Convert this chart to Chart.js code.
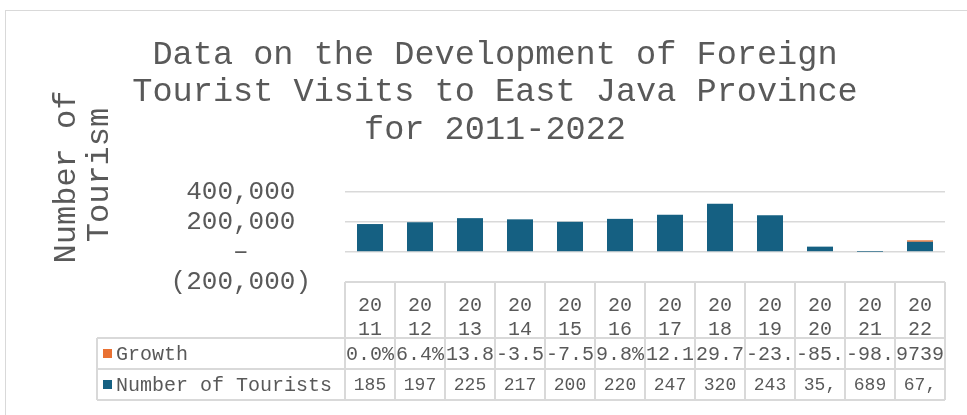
<!DOCTYPE html>
<html>
<head>
<meta charset="utf-8">
<script src="https://cdn.jsdelivr.net/npm/chart.js@4.4.0/dist/chart.umd.min.js"></script>
<style>
  html, body { margin: 0; padding: 0; background: #fff; overflow: hidden; }
  #frame { position: absolute; left: 5px; top: 10px; width: 1000px; height: 500px; border: 1.5px solid #d9d9d9; box-sizing: border-box; }
  #wrap { position: absolute; left: 0; top: 0; width: 967px; height: 415px; }
</style>
</head>
<body>
<div id="frame"></div>
<div id="wrap"><canvas id="myChart"></canvas></div>
<script>
const years = ['2011', '2012', '2013', '2014', '2015', '2016', '2017', '2018', '2019', '2020', '2021', '2022'];
const tourists = [185950, 197850, 225210, 217320, 200870, 220460, 247140, 320530, 243900, 35510, 689, 67790];
// growth in percent
const growth = [0.0, 6.4, 13.8, -3.5, -7.5, 9.8, 12.1, 29.7, -23.9, -85.4, -98.1, 9739.0];
const yTickValues = [-200000, 0, 200000, 400000];
const yTickLabels = ['(200,000)', '\u2013', '200,000', '400,000'];

const mono = "'Liberation Mono', 'Courier New', monospace";
const textColor = '#595959';
const lineColor = '#d9d9d9';
const blue = '#156082';
const orange = '#E97132';

function fitText(ctx, str, maxW) {
  let s = str;
  while (s.length > 0 && ctx.measureText(s).width > maxW) s = s.slice(0, -1);
  return s;
}

const yTitlePlugin = {
  id: 'yTitle',
  afterDraw(chart) {
    const ctx = chart.ctx;
    ctx.save();
    ctx.fillStyle = textColor;
    ctx.font = '32px ' + mono;
    ctx.textAlign = 'center';
    ctx.textBaseline = 'middle';
    [['Number of', 67, 177], ['Tourism', 100, 175]].forEach(([t, x, y]) => {
      ctx.save();
      ctx.translate(x, y);
      ctx.rotate(-Math.PI / 2);
      ctx.fillText(t, 0, 0);
      ctx.restore();
    });
    ctx.restore();
  }
};

const tablePlugin = {
  id: 'dataTable',
  afterDraw(chart) {
    const {ctx, chartArea} = chart;
    const xs = chart.scales.x;
    const half = (xs.getPixelForValue(1) - xs.getPixelForValue(0)) / 2;
    const left = chartArea.left, right = chartArea.right;
    const top = chartArea.bottom;
    const r1 = top + 56, r2 = r1 + 31, r3 = r2 + 31;
    const legendLeft = 97;

    ctx.save();
    ctx.strokeStyle = lineColor;
    ctx.lineWidth = 2;
    ctx.beginPath();
    ctx.moveTo(left, top); ctx.lineTo(right, top);
    [r1, r2, r3].forEach(y => { ctx.moveTo(legendLeft, y); ctx.lineTo(right, y); });
    ctx.moveTo(legendLeft, r1); ctx.lineTo(legendLeft, r3);
    years.forEach((y, i) => {
      const x = xs.getPixelForValue(i) - half;
      ctx.moveTo(x, top); ctx.lineTo(x, r3);
    });
    ctx.moveTo(right, top); ctx.lineTo(right, r3);
    ctx.stroke();

    // legend keys
    ctx.textBaseline = 'middle';
    ctx.font = '20px ' + mono;
    const rows = [
      {label: 'Growth', color: orange, y: (r1 + r2) / 2},
      {label: 'Number of Tourists', color: blue, y: (r2 + r3) / 2}
    ];
    rows.forEach(r => {
      ctx.fillStyle = r.color;
      ctx.fillRect(103, r.y - 4.5, 9, 9);
      ctx.fillStyle = textColor;
      ctx.textAlign = 'left';
      ctx.fillText(r.label, 116, r.y + 1);
    });

    // values
    ctx.textAlign = 'center';
    years.forEach((yr, i) => {
      const cx = xs.getPixelForValue(i);
      ctx.font = '20px ' + mono;
      ctx.fillText(fitText(ctx, growth[i].toFixed(1) + '%', 2 * half), cx, rows[0].y + 1);
      ctx.font = '18px ' + mono;
      ctx.fillText(fitText(ctx, tourists[i].toLocaleString('en-US'), 2 * half - 10), cx, rows[1].y + 1);
    });
    ctx.restore();
  }
};

new Chart(document.getElementById('myChart'), {
  type: 'bar',
  data: {
    labels: years,
    datasets: [
      {
        label: 'Number of Tourists',
        data: tourists,
        backgroundColor: blue,
        barPercentage: 0.52,
        categoryPercentage: 1
      },
      {
        label: 'Growth',
        data: growth,
        // negative growth is far too small to see on this scale
        backgroundColor: c => c.raw < 0 ? 'rgba(0,0,0,0)' : orange,
        barPercentage: 0.52,
        categoryPercentage: 1
      }
    ]
  },
  options: {
    responsive: true,
    maintainAspectRatio: false,
    animation: false,
    layout: { padding: { left: 45, right: 22, top: 0, bottom: 0 } },
    plugins: {
      legend: { display: false },
      tooltip: { enabled: false },
      title: {
        display: true,
        text: ['Data on the Development of Foreign', 'Tourist Visits to East Java Province', 'for 2011-2022'],
        color: textColor,
        font: { family: mono, size: 33.6, weight: 'normal', lineHeight: 1.12 },
        padding: { top: 36, bottom: 43 }
      }
    },
    scales: {
      x: {
        stacked: true,
        grid: { display: false },
        border: { display: false },
        ticks: {
          color: textColor,
          font: { family: mono, size: 20, lineHeight: 1.2 },
          padding: 4,
          maxRotation: 0,
          autoSkip: false,
          callback: (v, i) => [years[i].slice(0, 2), years[i].slice(2)]
        },
        afterFit: s => { s.height = 133; }
      },
      y: {
        stacked: true,
        min: -200000,
        max: 400000,
        afterBuildTicks: s => { s.ticks = yTickValues.map(v => ({value: v})); },
        grid: { color: lineColor, lineWidth: 1.5, drawTicks: false },
        border: { display: false },
        ticks: {
          color: textColor,
          font: { family: mono, size: 26 },
          padding: 34,
          autoSkip: false,
          crossAlign: 'center',
          callback: v => yTickLabels[yTickValues.indexOf(v)]
        },
        afterFit: s => { s.width = 300; }
      }
    }
  },
  plugins: [yTitlePlugin, tablePlugin]
});
</script>
</body>
</html>
